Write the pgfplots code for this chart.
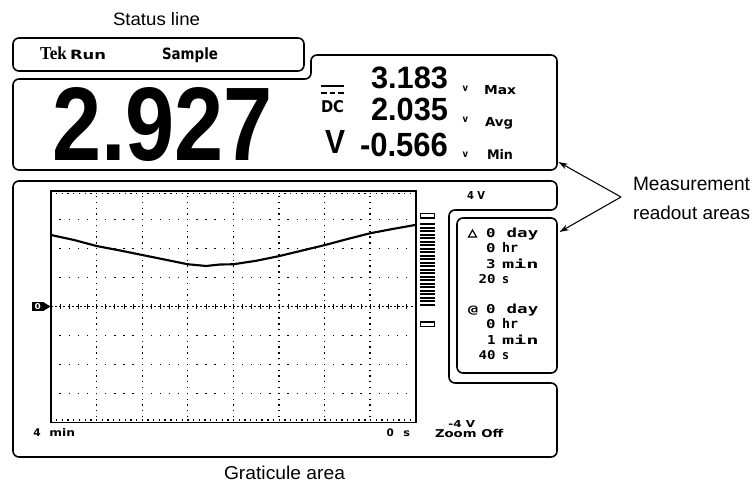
\documentclass[border=0pt]{standalone}
\usepackage{graphicx}
\usepackage{fontspec}
\setmainfont{Liberation Sans}
\newfontfamily\tekf{Liberation Serif}
\newfontfamily\scrf{DejaVu Sans}
\newfontfamily\monof{DejaVu Sans Mono}
\usepackage{pgfplots}
\pgfplotsset{compat=1.18}
\usetikzlibrary{arrows.meta}
\newdimen\px \px=0.75pt
\newcommand\fit[5]{\node[anchor=base west,inner sep=0pt,outer sep=0pt] at (#1,#2) {\resizebox{#3\px}{#4\px}{#5}};}
\newcommand\fitr[5]{\node[anchor=base east,inner sep=0pt,outer sep=0pt] at (#1,#2) {\resizebox{#3\px}{#4\px}{#5}};}
\begin{document}
\begin{tikzpicture}
\path[use as bounding box] (0,0) rectangle (566.25pt,-370.5pt);
\begin{axis}[
  at={(38.25pt,-316.725pt)}, anchor=south west,
  scale only axis, width=273.525pt, height=173.7pt,
  xmin=-240, xmax=0, ymin=-4, ymax=4,
  axis line style={line width=1.2pt},
  xtick={-210,-180,...,-30}, ytick={-3,-2,-1,1,2,3},
  xticklabels={}, yticklabels={},
  major tick length=0pt,
  grid=major,
  x grid style={black,line width=1pt,dash pattern=on 1pt off 3.34pt,dash phase=0.5pt},
  y grid style={black,line width=1pt,dash pattern=on 1pt off 5.84pt,dash phase=0.5pt},
]
\draw[line width=0.8pt,dash pattern=on 1.5pt off 1.6pt] (axis cs:-240,0) -- (axis cs:0,0);
\pgfplotsinvokeforeach{1,...,39}{\draw[line width=0.6pt] (axis cs:{-240+6*#1},-0.07) -- (axis cs:{-240+6*#1},0.07);}
\draw[line width=1pt,dash pattern=on 1pt off 3.28pt,dash phase=0.5pt] (axis cs:-240,3.9) -- (axis cs:0,3.9);
\draw[line width=1pt,dash pattern=on 1pt off 3.28pt,dash phase=0.5pt] (axis cs:-240,-3.92) -- (axis cs:0,-3.92);
\addplot[black, line width=1.6pt] coordinates {
(-240,2.47) (-225,2.30) (-210,2.09) (-195,1.94) (-180,1.78) (-165,1.62)
(-150,1.46) (-138,1.40) (-129,1.45) (-120,1.46) (-105,1.58) (-90,1.74)
(-75,1.93) (-60,2.12) (-45,2.33) (-30,2.53) (-15,2.68) (0,2.82)};
\end{axis}
\begin{scope}[x=0.75pt,y=-0.75pt]
% boxes
\draw[line width=1.2pt,rounded corners=4.5pt] (13,38) rectangle (304,71);
\draw[line width=1.2pt,rounded corners=4.5pt] (13,79) -- (311,79) -- (311,55) -- (557,55) -- (557,170) -- (13,170) -- cycle;
\draw[line width=1.2pt,rounded corners=4.5pt] (13,181) -- (557,181) -- (557,210) -- (449,210) -- (449,383) -- (557,383) -- (557,457) -- (13,457) -- cycle;
\draw[line width=1.2pt,rounded corners=4.5pt] (457,218) rectangle (557,373);
% callouts
\draw[line width=0.8pt,-{Stealth[length=7pt,width=4.5pt]}] (621,197) -- (558.5,162);
\draw[line width=0.8pt,-{Stealth[length=7pt,width=4.5pt]}] (621,197) -- (559.5,232);
\fit{113}{25}{87}{13}{Status line}
\fit{633}{190}{117}{13.3}{Measurement}
\fit{633}{219.5}{117}{13.5}{readout areas}
\fit{224}{479}{121}{13.5}{Graticule area}
% status line
\fit{40}{59.3}{27}{12.6}{\tekf\bfseries Tek}
\fit{70}{59.3}{36}{9.3}{\scrf\bfseries Run}
\fit{162}{59.3}{56}{11.8}{\scrf\bfseries Sample}
% main readout
\fit{52}{160}{221}{73}{\bfseries 2.927}
\draw[line width=1.6pt] (321,85.7) -- (344,85.7);
\draw[line width=1.6pt,dash pattern=on 4.2pt off 2.25pt] (321,93.3) -- (344,93.3);
\fit{321}{112}{23}{12}{\scrf\bfseries DC}
\fit{325}{153}{20}{23}{\bfseries V}
\fit{371}{88.3}{77}{21.6}{\bfseries 3.183}
\fit{371}{120.7}{77}{22.4}{\bfseries 2.035}
\fit{360}{156.7}{88}{23.4}{\bfseries -0.566}
\fit{462.5}{91}{5.5}{5.5}{\scrf\bfseries v}
\fit{462.5}{122.5}{5.5}{5.5}{\scrf\bfseries v}
\fit{462.5}{157}{5.5}{5.5}{\scrf\bfseries v}
\fit{484}{94}{32}{9}{\scrf\bfseries Max}
\fit{485}{126}{28}{9}{\scrf\bfseries Avg}
\fit{487}{159}{26}{10}{\scrf\bfseries Min}
% scale
\fit{467}{199}{18}{8}{\scrf\bfseries 4 V}
\fit{448.3}{427.3}{26.7}{7}{\scrf\bfseries -4 V}
\fit{435}{437}{68.3}{8.2}{\scrf\bfseries Zoom Off}
\fit{33.3}{436}{7.4}{7.7}{\scrf\bfseries 4}
\fit{49.3}{436}{25.7}{8}{\scrf\bfseries min}
\fit{386.7}{436}{7.3}{7.7}{\scrf\bfseries 0}
\fit{403.3}{436}{6.7}{5.7}{\scrf\bfseries s}
% time readouts
\draw[line width=0.9pt] (468.5,237) -- (476.5,237) -- (472.5,230) -- cycle;
\fitr{495.5}{237.3}{9.5}{9}{\monof\bfseries 0}
\fit{506.7}{237.3}{31.6}{9.5}{\monof\bfseries day}
\fitr{495.5}{252.6}{9.5}{9}{\monof\bfseries 0}
\fit{502}{252.6}{16}{10}{\monof\bfseries hr}
\fitr{495.5}{268}{9.5}{9}{\monof\bfseries 3}
\fit{502}{268}{36.7}{9.5}{\monof\bfseries min}
\fitr{495.5}{283.3}{17}{9}{\monof\bfseries 20}
\fit{502}{283.3}{7}{7}{\monof\bfseries s}
\fit{468}{313.3}{10}{7.5}{\monof\bfseries @}
\fitr{495.5}{313.3}{9.5}{9}{\monof\bfseries 0}
\fit{506.7}{313.3}{31.6}{9.5}{\monof\bfseries day}
\fitr{495.5}{328.6}{9.5}{9}{\monof\bfseries 0}
\fit{502}{328.6}{16}{10}{\monof\bfseries hr}
\fitr{495.5}{344}{8.5}{9}{\monof\bfseries 1}
\fit{502}{344}{36.7}{9.5}{\monof\bfseries min}
\fitr{495.5}{359.3}{17}{9}{\monof\bfseries 40}
\fit{502}{359.3}{7}{7}{\monof\bfseries s}
% ground marker
\fill (31.7,302.3) rectangle (44,310.7);
\fit{34.5}{309.3}{6.2}{6}{\color{white}\scrf\bfseries 0}
\fill (44,302.5) -- (50.5,306.5) -- (44,310.5) -- cycle;
% record bar
\foreach \i in {0,...,23} \fill (420,{223+3.5*\i}) rectangle (435,{223+3.5*\i+2.2});
\draw[line width=0.9pt] (420.5,213.5) rectangle (434.5,218);
\draw[line width=0.9pt] (420.5,322) rectangle (434.5,326.5);
\end{scope}
\end{tikzpicture}
\end{document}
